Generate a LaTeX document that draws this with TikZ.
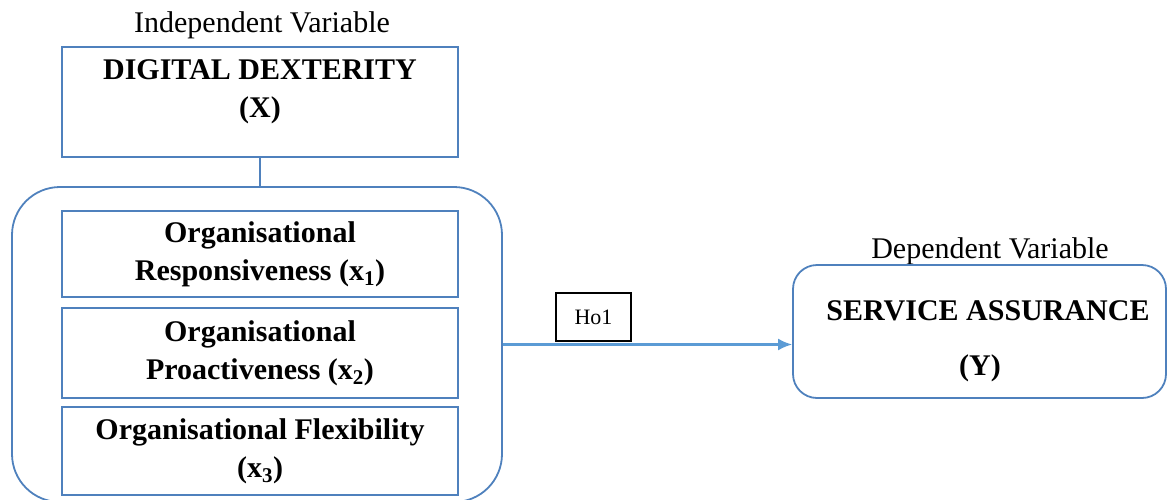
\documentclass[tikz,border=0pt]{standalone}
\usepackage{fontspec}
\setmainfont{Liberation Serif}
\definecolor{boxblue}{RGB}{79,129,189}
\definecolor{arrowblue}{RGB}{91,155,213}
\usepackage{tikz}
\usetikzlibrary{arrows.meta}

\begin{document}
\begin{tikzpicture}[x=1pt,y=-1pt]

%
% Styles
%
\tikzstyle{box} = [rectangle,draw=boxblue,line width=1.8pt,minimum width=396pt,inner sep=0pt]
\tikzstyle{roundbox} = [rectangle,rounded corners=48pt,draw=boxblue,line width=1.8pt,inner sep=0pt]
\tikzstyle{heading} = [font=\fontsize{30}{38}\selectfont\bfseries,align=center]
\tikzstyle{caption} = [font=\fontsize{30}{36}\selectfont]

\useasboundingbox (0,0) rectangle (1168,499);

\node[caption] (iv) at (262,25) {Independent Variable};
\node[box,minimum height=110pt] (dd) at (260,102) {};
\node[heading] (ddtext) at (260,92) {DIGITAL DEXTERITY\\(X)};

\node[roundbox,minimum width=490pt,minimum height=315pt] (cont) at (257,344.5) {};
\node[box,heading,minimum height=86pt] (x1) at (260,254) {Organisational\\Responsiveness (x\textsubscript{1})};
\node[box,heading,minimum height=90pt] (x2) at (260,353) {Organisational\\Proactiveness (x\textsubscript{2})};
\node[box,heading,minimum height=88pt] (x3) at (260,451) {Organisational Flexibility\\(x\textsubscript{3})};

\node[caption] (dv) at (990,251) {Dependent Variable};
\node[roundbox,rounded corners=24pt,minimum width=373pt,minimum height=133pt] (sa) at (979.5,331.5) {};
\node[heading] (satext) at (988,311) {SERVICE ASSURANCE};
\node[heading] (ytext) at (980,368) {(Y)};

\node[rectangle,draw=black,line width=1.4pt,minimum width=75pt,minimum height=48pt,font=\fontsize{22}{26}\selectfont] (h01) at (593.5,317) {Ho1};

\draw[boxblue,line width=1.8pt] (dd.south) -- (dd.south |- cont.north);
\draw[arrowblue,line width=2.2pt,-{Latex[length=14pt,width=12pt]}] (cont.east) -- (cont.east -| sa.west);

\end{tikzpicture}
\end{document}
